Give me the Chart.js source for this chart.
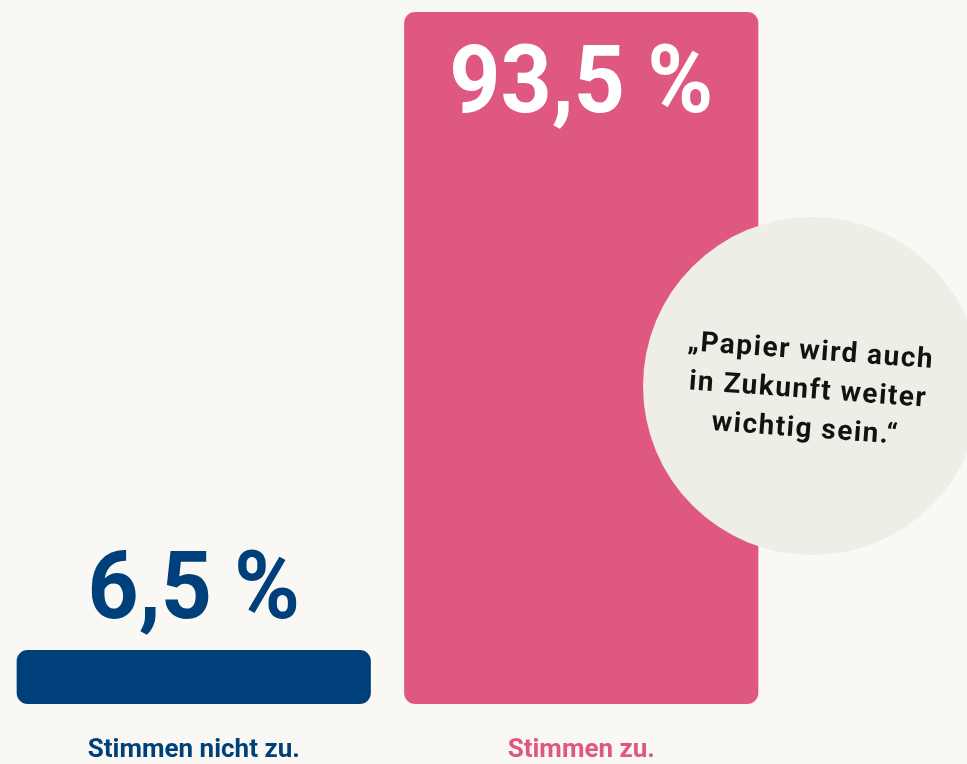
<!DOCTYPE html>
<html lang="de">
<head>
<meta charset="utf-8">
<title>Papier wird auch in Zukunft weiter wichtig sein</title>
<script src="https://cdn.jsdelivr.net/npm/chart.js@4.4.1/dist/chart.umd.min.js"></script>
<style>
  html, body { margin: 0; padding: 0; background: #f9f8f4; }
  #wrap { position: relative; width: 967px; height: 764px; overflow: hidden; }
</style>
</head>
<body>
<div id="wrap"><canvas id="chartPapier"></canvas></div>
<script>
const categories  = ['Stimmen nicht zu.', 'Stimmen zu.'];
const shares      = [6.5, 93.5];
const valueLabels = ['6,5 %', '93,5 %'];
const barColors   = ['#00407a', '#de5880'];
const quoteLines  = ['\u201EPapier wird auch', 'in Zukunft weiter', 'wichtig sein.\u201C'];

const FONT = 'Roboto, "Open Sans", sans-serif';
const AXIS_MIN = -0.86;   // small navy bar is drawn a bit taller in the original

/* ── value labels: outside for the small bar, inside for the big one ── */
const valueLabelPlugin = {
  id: 'valueLabels',
  afterDatasetsDraw(chart) {
    const { ctx } = chart;
    const meta = chart.getDatasetMeta(0);
    meta.data.forEach((bar, i) => {
      const inside = shares[i] > 50;
      const y = inside ? bar.y + 100 : bar.y - 32;
      ctx.save();
      ctx.translate(bar.x, y);
      ctx.scale(0.94, 1);   // original face is a bit narrower than Roboto
      ctx.font = 'bold 95px ' + FONT;
      ctx.textAlign = 'center';
      ctx.textBaseline = 'alphabetic';
      ctx.fillStyle = inside ? '#ffffff' : barColors[i];
      ctx.fillText(valueLabels[i], 0, 0);
      ctx.restore();
    });
  },
};

/* ── quote bubble on the right ── */
const quotePlugin = {
  id: 'quoteBubble',
  afterDraw(chart) {
    const { ctx } = chart;
    ctx.save();
    ctx.beginPath();
    ctx.arc(812, 386, 169, 0, Math.PI * 2);
    ctx.fillStyle = '#eeede6';
    ctx.fill();

    ctx.translate(808, 391);
    ctx.rotate(4.2 * Math.PI / 180);
    ctx.fillStyle = '#121212';
    ctx.font = 'bold 28px ' + FONT;
    ctx.letterSpacing = '1.5px';
    ctx.textAlign = 'center';
    ctx.textBaseline = 'middle';
    const lh = 39;
    quoteLines.forEach((line, i) => {
      ctx.fillText(line, 0, (i - 1) * lh);
    });
    ctx.restore();
  },
};

new Chart(document.getElementById('chartPapier'), {
  type: 'bar',
  data: {
    labels: categories,
    datasets: [{
      data: shares,
      base: AXIS_MIN,
      backgroundColor: barColors,
      borderRadius: 11,
      borderSkipped: false,
      barPercentage: 0.914,
      categoryPercentage: 1,
    }],
  },
  options: {
    responsive: true,
    maintainAspectRatio: false,
    animation: false,
    layout: { padding: { top: 12, left: 0, right: 192, bottom: 0 } },
    plugins: {
      legend: { display: false },
      tooltip: { enabled: false },
    },
    scales: {
      x: {
        grid: { display: false, drawTicks: false },
        border: { display: false },
        ticks: {
          padding: 33,
          color: ctx => barColors[ctx.index],
          font: { family: FONT, size: 26, weight: 'bold', lineHeight: 1 },
        },
        afterFit: s => { s.height = 60; },
      },
      y: {
        display: false,
        min: AXIS_MIN,
        max: 93.5,
      },
    },
  },
  plugins: [valueLabelPlugin, quotePlugin],
});
</script>
</body>
</html>
